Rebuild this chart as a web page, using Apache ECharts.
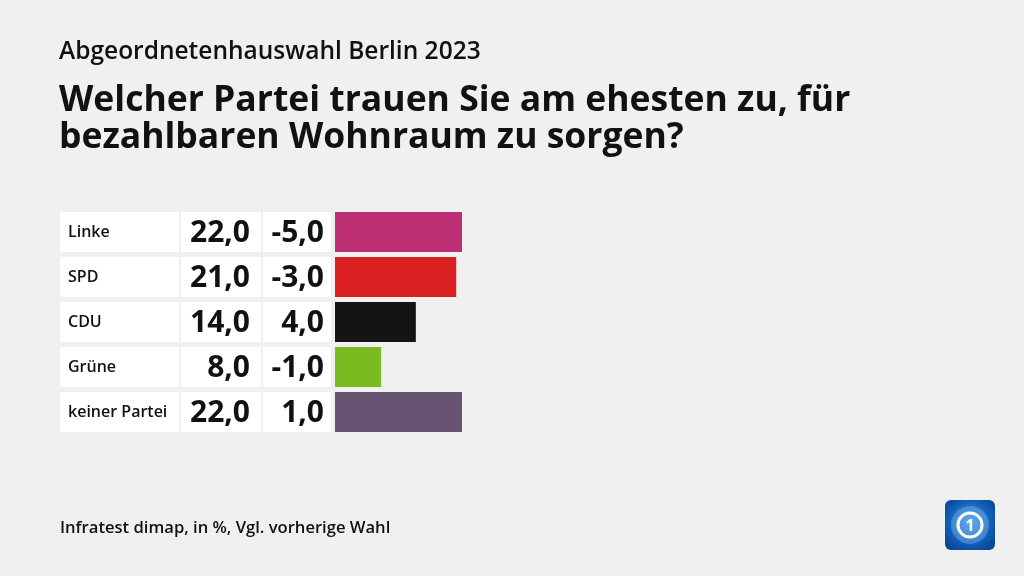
<!DOCTYPE html>
<html><head><meta charset="utf-8">
<script src="https://cdn.jsdelivr.net/npm/echarts@6/dist/echarts.min.js"></script>
<style>html,body{margin:0;padding:0;background:#f0f0f0}#c{width:1024px;height:576px}</style>
</head><body><div id="c"></div>
<script>
const categories = ['Linke', 'SPD', 'CDU', 'Grüne', 'keiner Partei'];
const values = [22.0, 21.0, 14.0, 8.0, 22.0];
const changes = [-5.0, -3.0, 4.0, -1.0, 1.0];
const colors = ['#be3075', '#d91f1f', '#141414', '#7cbb1f', '#675473'];

const fmt = v => v.toFixed(1).replace('.', ',');
const chart = echarts.init(document.getElementById('c'));
const FONT = '"Open Sans", sans-serif';

chart.setOption({
  backgroundColor: '#f0f0f0',
  animation: false,
  title: [
    {text: 'Abgeordnetenhauswahl Berlin 2023', left: 59, top: 40, padding: 0,
     textStyle: {fontFamily: FONT, fontWeight: 600, fontSize: 24.5, color: '#111'}},
    {text: 'Welcher Partei trauen Sie am ehesten zu, für\nbezahlbaren Wohnraum zu sorgen?', left: 59, top: 82, padding: 0,
     textStyle: {fontFamily: FONT, fontWeight: 700, fontSize: 35.5, lineHeight: 37, color: '#111'}},
    {text: 'Infratest dimap, in %, Vgl. vorherige Wahl', left: 60, top: 520, padding: 0,
     textStyle: {fontFamily: FONT, fontWeight: 600, fontSize: 16.6, color: '#111'}}
  ],
  grid: {left: 335, right: 562, top: 209.5, height: 225},
  xAxis: {type: 'value', min: 0, max: 22, show: false},
  yAxis: {type: 'category', data: categories, inverse: true, show: false},
  series: [
    {type: 'bar', barWidth: 40,
     data: values.map((v, i) => ({value: v, itemStyle: {color: colors[i]}}))},
    {type: 'custom', clip: false, silent: true,
     data: categories.map((c, i) => [i, values[i], changes[i]]),
     renderItem: function (params, api) {
       const i = api.value(0);
       const yc = api.coord([0, i])[1];
       const y0 = yc - 20;
       return {type: 'group', children: [
         {type: 'rect', shape: {x: 60, y: y0, width: 119, height: 40}, style: {fill: '#fff'}},
         {type: 'text', style: {x: 68, y: yc, text: categories[i], textAlign: 'left', textVerticalAlign: 'middle',
           font: '600 16px ' + FONT, fill: '#111'}},
         {type: 'rect', shape: {x: 181, y: y0, width: 80, height: 40}, style: {fill: '#fff'}},
         {type: 'text', style: {x: 250, y: yc + 1, text: fmt(api.value(1)), textAlign: 'right', textVerticalAlign: 'middle',
           font: '700 30px ' + FONT, fill: '#111'}},
         {type: 'rect', shape: {x: 263, y: y0, width: 68, height: 40}, style: {fill: '#fff'}},
         {type: 'text', style: {x: 324, y: yc + 1, text: fmt(api.value(2)), textAlign: 'right', textVerticalAlign: 'middle',
           font: '700 30px ' + FONT, fill: '#111'}}
       ]};
     }}
  ],
  graphic: [
    {type: 'group', left: 945, top: 500, children: [
      {type: 'rect', shape: {x: 0, y: 0, width: 50, height: 50, r: 6},
       style: {fill: new echarts.graphic.RadialGradient(0.5, 0.45, 0.7, [
         {offset: 0, color: '#4a9ae6'}, {offset: 0.6, color: '#1160b8'}, {offset: 1, color: '#073d8a'}])}},
      {type: 'circle', shape: {cx: 25, cy: 25, r: 19}, style: {fill: 'rgba(140,195,245,0.35)'}},
      {type: 'circle', shape: {cx: 25, cy: 25, r: 12}, style: {fill: 'none', stroke: '#fff', lineWidth: 3}},
      {type: 'text', style: {x: 25, y: 26, text: '1', textAlign: 'center', textVerticalAlign: 'middle',
        font: '700 16px ' + FONT, fill: '#fff'}}
    ]}
  ]
});
</script></body></html>
